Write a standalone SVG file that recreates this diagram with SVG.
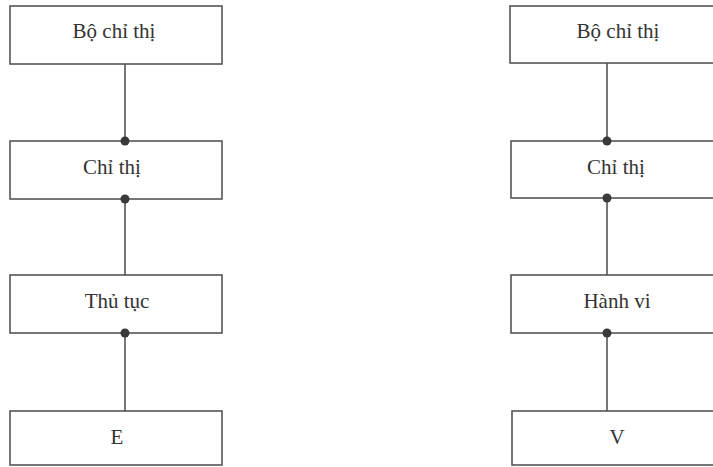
<svg xmlns="http://www.w3.org/2000/svg" width="713" height="467" viewBox="0 0 713 467">
<style>
.box{fill:#fff;stroke:#555;stroke-width:1.6}
.lbl{font-family:"Liberation Serif","DejaVu Serif",serif;font-size:21px;fill:#333;text-anchor:middle}
.con{stroke:#555;stroke-width:1.6;fill:none}
.dot{fill:#3a3a3a}
</style>
<rect width="713" height="467" fill="#fff"/>
<g id="l-bochithi"><rect class="box" x="10" y="6" width="212" height="58"/><text class="lbl" x="114" y="38">Bộ chỉ thị</text></g>
<g id="l-chithi"><rect class="box" x="10" y="141" width="212" height="58"/><text class="lbl" x="112" y="174">Chỉ thị</text></g>
<g id="l-thutuc"><rect class="box" x="10" y="275" width="212" height="58"/><text class="lbl" x="117" y="308">Thủ tục</text></g>
<g id="l-e"><rect class="box" x="10" y="411" width="212" height="54"/><text class="lbl" x="117" y="444">E</text></g>
<g id="r-bochithi"><rect class="box" x="510" y="6" width="214" height="57"/><text class="lbl" x="618" y="38">Bộ chỉ thị</text></g>
<g id="r-chithi"><rect class="box" x="511" y="141" width="213" height="57"/><text class="lbl" x="616" y="174">Chỉ thị</text></g>
<g id="r-hanhvi"><rect class="box" x="511" y="275" width="213" height="58"/><text class="lbl" x="617" y="308">Hành vi</text></g>
<g id="r-v"><rect class="box" x="512" y="411" width="212" height="54"/><text class="lbl" x="617" y="444">V</text></g>
<g id="connectors">
<line class="con" x1="125" y1="64" x2="125" y2="141"/>
<line class="con" x1="125" y1="199" x2="125" y2="275"/>
<line class="con" x1="125" y1="333" x2="125" y2="411"/>
<line class="con" x1="607" y1="63" x2="607" y2="141"/>
<line class="con" x1="607" y1="198" x2="607" y2="275"/>
<line class="con" x1="607" y1="333" x2="607" y2="411"/>
<circle class="dot" cx="125" cy="141" r="4.5"/>
<circle class="dot" cx="125" cy="199" r="4.5"/>
<circle class="dot" cx="125" cy="333" r="4.5"/>
<circle class="dot" cx="607" cy="141" r="4.5"/>
<circle class="dot" cx="607" cy="198" r="4.5"/>
<circle class="dot" cx="607" cy="333" r="4.5"/>
</g>
</svg>
